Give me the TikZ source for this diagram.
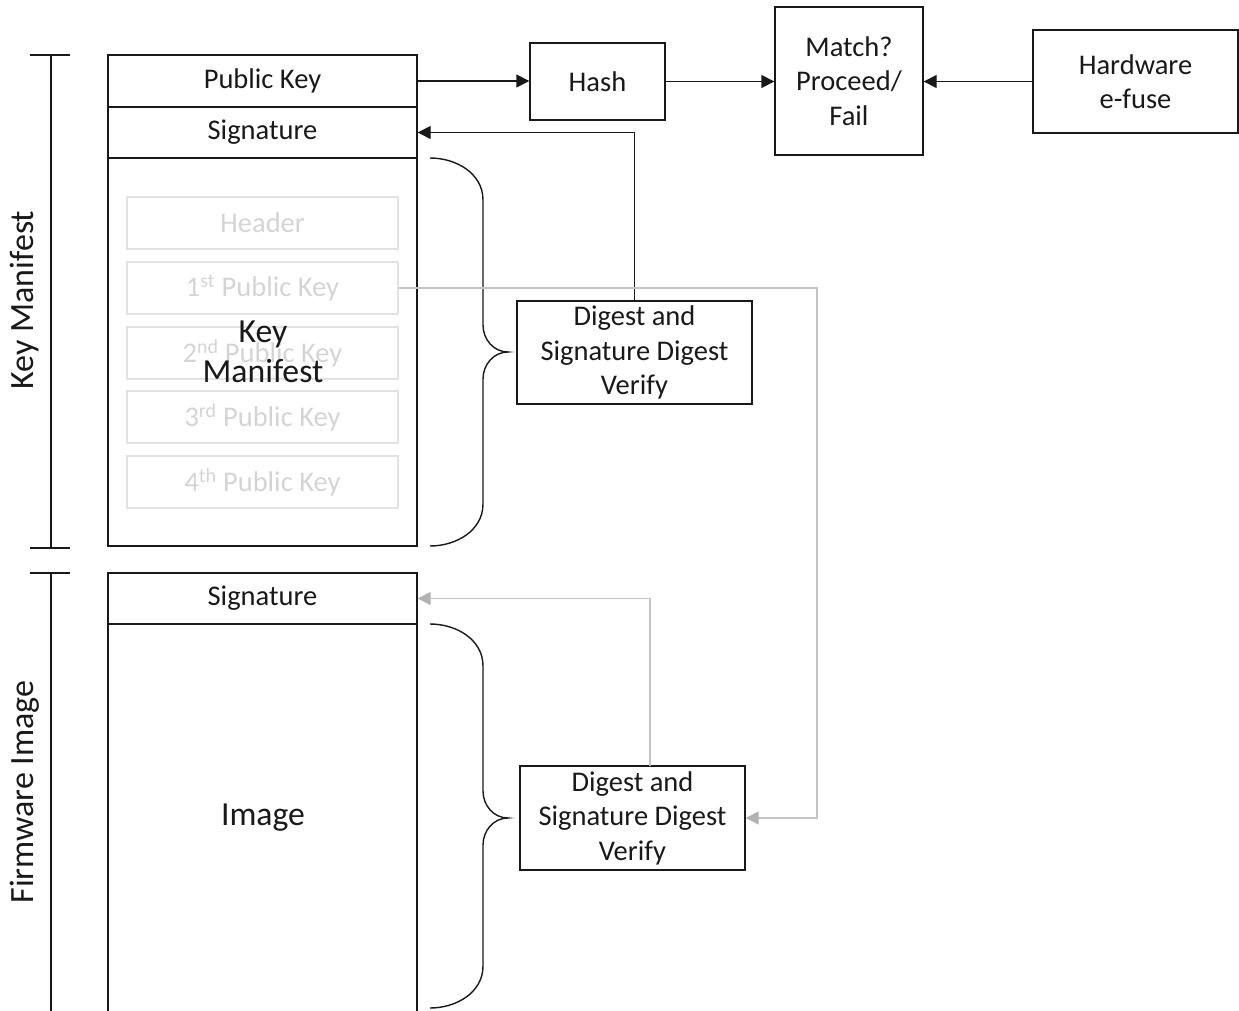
\documentclass[tikz,border=0pt]{standalone}
\usepackage{fontspec}
\setmainfont{Carlito}
\usetikzlibrary{arrows.meta}

\definecolor{faint}{RGB}{226,226,226}
\definecolor{fainttext}{RGB}{212,212,212}
\definecolor{wire}{RGB}{196,196,196}
\definecolor{wirehead}{RGB}{178,178,178}
\definecolor{ink}{RGB}{25,25,25}

\begin{document}
\begin{tikzpicture}[x=1pt,y=-1pt,
	box/.style={draw=ink, line width=1.4pt, inner sep=0pt, align=center, text=ink,
		font=\fontsize{28.5}{34.5}\selectfont},
	keybox/.style={draw=faint, line width=1.4pt, minimum width=271pt, minimum height=52pt,
		text=fainttext, font=\fontsize{28.5}{34.5}\selectfont},
	arr/.style={draw=ink, line width=1.4pt, -{Triangle[length=13pt,width=13pt]}},
	garr/.style={draw=wire, line width=1.4pt, -{Triangle[length=13pt,width=13pt,color=wirehead]}},
	brc/.style={draw=ink, line width=1.4pt},
	side/.style={rotate=90, text=ink, font=\fontsize{34}{40}\selectfont}]
	\useasboundingbox (0,0) rectangle (1239,1011);
	\clip (0,0) rectangle (1239,1011);

	% side brackets
	\draw[brc] (30,55) -- (70,55) (51,55) -- (51,548) (30,548) -- (70,548);
	\draw[brc] (30,573) -- (70,573) (51,573) -- (51,1020);
	\node[side] (kmside) at (25,300) {Key Manifest};
	\node[side] (fwside) at (25,792) {Firmware Image};

	% key manifest
	\node[box, minimum width=309pt, minimum height=52pt] (pk) at (262.5,81) {Public Key};
	\node[box, minimum width=309pt, minimum height=51pt] (sig1) at (262.5,132.5) {Signature};
	\node[box, minimum width=309pt, minimum height=388pt] (kmbody) at (262.5,352) {};
	\node[keybox] (hdr) at (262.5,223) {Header};
	\node[keybox] (k1) at (262.5,288) {1\textsuperscript{st} Public Key};
	\node[keybox] (k2) at (262.5,353) {2\textsuperscript{nd} Public Key};
	\node[keybox] (k3) at (262.5,417) {3\textsuperscript{rd} Public Key};
	\node[keybox] (k4) at (262.5,482) {4\textsuperscript{th} Public Key};
	\node[align=center, text=ink, font=\fontsize{33.7}{40}\selectfont] (kmtxt) at (263,352) {Key\\Manifest};

	% firmware image
	\node[box, minimum width=309pt, minimum height=51pt] (sig2) at (262.5,598.5) {Signature};
	\node[box, minimum width=309pt, minimum height=406pt] (imgbody) at (262.5,827) {};
	\node[text=ink, font=\fontsize{33.7}{40}\selectfont] (imgtxt) at (263,818) {Image};

	% braces
	\draw[brc] (430,158) to[out=0,in=90] (483,200) -- (483,325) to[out=-90,in=180] (508,352)
		to[out=180,in=90] (483,379) -- (483,504) to[out=-90,in=0] (430,546);
	\draw[brc] (430,624) to[out=0,in=90] (483,666) -- (483,791) to[out=-90,in=180] (508,818)
		to[out=180,in=90] (483,845) -- (483,966) to[out=-90,in=0] (430,1008);

	% verify blocks
	\node[box, minimum width=235pt, minimum height=103pt] (dv1) at (634.5,352.5) {Digest and\\Signature Digest\\Verify};
	\node[box, minimum width=225pt, minimum height=104pt] (dv2) at (632.5,818) {Digest and\\Signature Digest\\Verify};

	% top row
	\node[box, minimum width=135pt, minimum height=77pt] (hash) at (597.5,81.5) {Hash};
	\node[box, minimum width=148pt, minimum height=148pt] (match) at (849,81) {Match?\\Proceed/\\Fail};
	\node[box, minimum width=205pt, minimum height=103pt] (hw) at (1135.5,81.5) {Hardware\\e-fuse};

	\coordinate (turn1) at (817,288);
	\coordinate (up2) at (650,766);

	% connectors
	\draw[arr] (pk.east) -- (hash.west |- pk.east);
	\draw[arr] (hash.east) -- (match.west |- hash.east);
	\draw[arr] (hw.west) -- (match.east |- hw.west);
	\draw[arr] (dv1.north) |- (sig1.east);
	\draw[garr] (k1.east) -- (turn1) |- (dv2.east);
	\draw[garr] (up2) |- (sig2.east);
\end{tikzpicture}
\end{document}
